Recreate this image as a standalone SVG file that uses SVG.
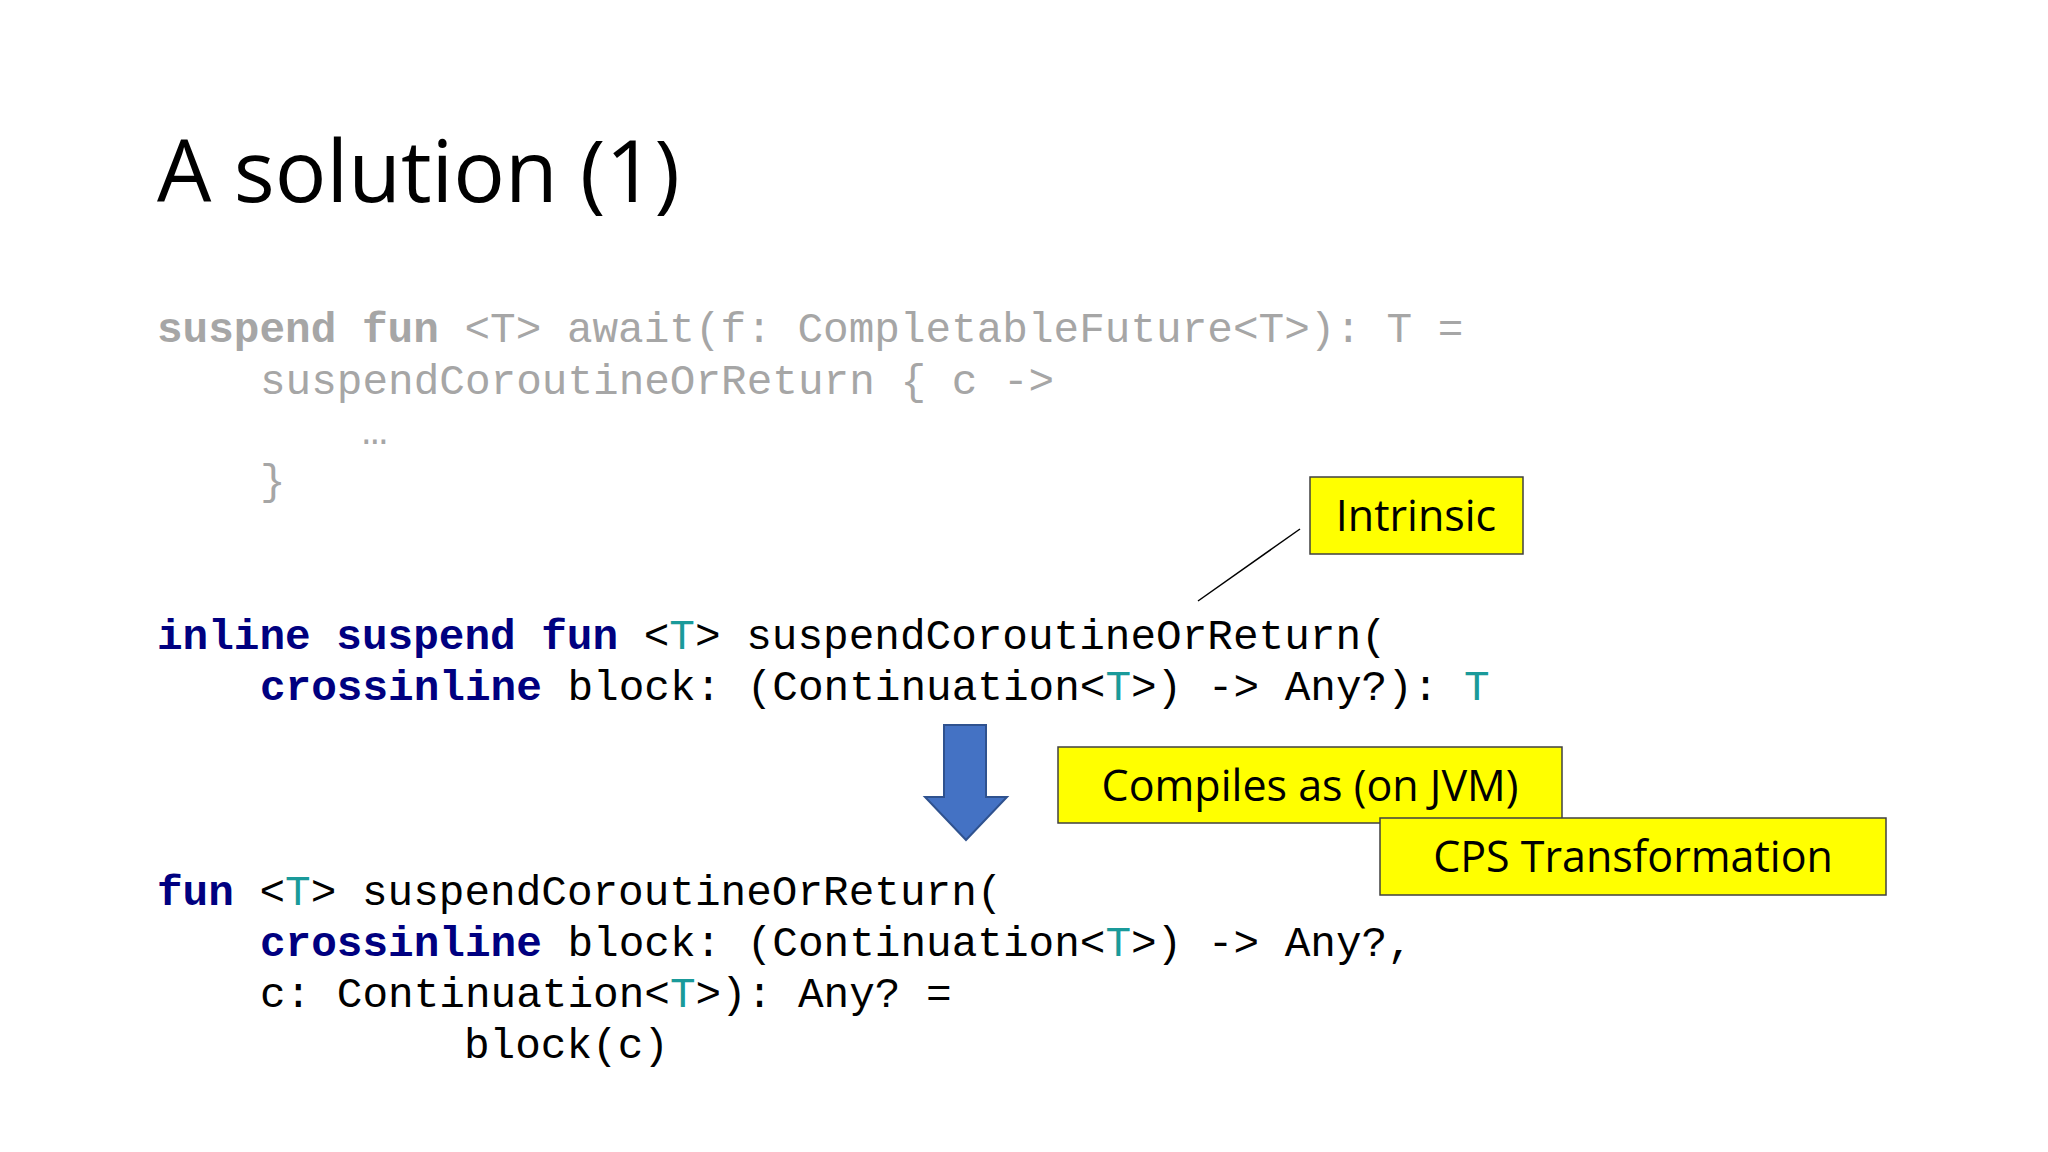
<svg xmlns="http://www.w3.org/2000/svg" width="2048" height="1152" viewBox="0 0 2048 1152">
<style>
.c{font-family:"Liberation Mono","DejaVu Sans Mono",monospace;font-size:42.7px;white-space:pre}
.g{fill:#a6a6a6}.g .k{font-weight:bold}
.b{fill:#000}.k{fill:#000080;font-weight:bold}.t{fill:#1a9a9a}
.gk{font-weight:bold}
.box{fill:#ffff00;stroke:#404040;stroke-width:1.5}
.bt{font-family:"Open Sans","Liberation Sans",sans-serif;font-size:43px;fill:#000}
</style>
<rect width="2048" height="1152" fill="#fff"/>
<text x="157" y="202" font-family="Open Sans, Liberation Sans, sans-serif" font-size="86" fill="#000">A solution (1)</text>
<g id="code1" class="c g">
<text x="157" y="342"><tspan class="gk">suspend fun</tspan> &lt;T&gt; await(f: CompletableFuture&lt;T&gt;): T =</text>
<text x="260" y="394">suspendCoroutineOrReturn { c -&gt;</text>
<text x="362" y="444">…</text>
<text x="260" y="494">}</text>
</g>
<g id="code2" class="c b">
<text x="157" y="649"><tspan class="k">inline suspend fun</tspan> &lt;<tspan class="t">T</tspan>&gt; suspendCoroutineOrReturn(</text>
<text x="260" y="700"><tspan class="k">crossinline</tspan> block: (Continuation&lt;<tspan class="t">T</tspan>&gt;) -&gt; Any?): <tspan class="t">T</tspan></text>
</g>
<g id="code3" class="c b">
<text x="157" y="905"><tspan class="k">fun</tspan> &lt;<tspan class="t">T</tspan>&gt; suspendCoroutineOrReturn(</text>
<text x="260" y="956"><tspan class="k">crossinline</tspan> block: (Continuation&lt;<tspan class="t">T</tspan>&gt;) -&gt; Any?,</text>
<text x="260" y="1007">c: Continuation&lt;<tspan class="t">T</tspan>&gt;): Any? =</text>
<text x="464" y="1058">block(c)</text>
</g>
<g id="connectors">
<line x1="1300" y1="529" x2="1198" y2="601" stroke="#000" stroke-width="1.5"/>
<path d="M944 725H986V797H1007L966 840L925 797H944Z" fill="#4472c4" stroke="#2f528f" stroke-width="2"/>
</g>
<g id="intrinsic"><rect class="box" x="1310" y="477" width="213" height="77"/><text class="bt" x="1416" y="531" text-anchor="middle">Intrinsic</text></g>
<g id="compiles"><rect class="box" x="1058" y="747" width="504" height="76"/><text class="bt" x="1310" y="801" text-anchor="middle">Compiles as (on JVM)</text></g>
<g id="cps"><rect class="box" x="1380" y="818" width="506" height="77"/><text class="bt" x="1633" y="872" text-anchor="middle">CPS Transformation</text></g>
</svg>
